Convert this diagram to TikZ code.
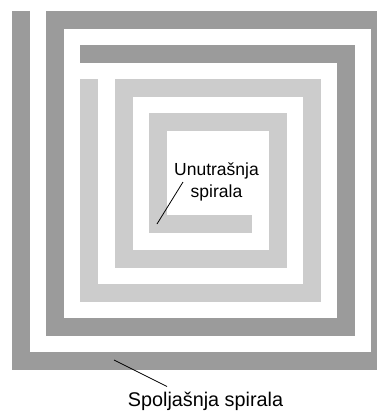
\documentclass[tikz,border=0pt]{standalone}
\usepackage{fontspec}
\setmainfont{Liberation Sans}
\usetikzlibrary{positioning}
\definecolor{Spiral_Dark}{HTML}{9B9B9B}
\definecolor{Spiral_Light}{HTML}{CCCCCC}
\begin{document}
\begin{tikzpicture}[
    x=1pt, y=-1pt,
    winding/.style={line width=18pt, line cap=butt, line join=miter},
    label/.style={inner sep=0pt, align=center, text=black},
    leader/.style={draw=black, line width=0.8pt}
]
\useasboundingbox (0,0) rectangle (377,412);
\begin{scope}
\clip (0,0) rectangle (377,412);
% outer spiral
\draw[winding, draw=Spiral_Dark] (21,11) -- (21,361) -- (380,361) -- (380,20)
    -- (55,20) -- (55,327) -- (345.5,327) -- (345.5,54) -- (80,54);
% inner spiral
\draw[winding, draw=Spiral_Light] (89,79) -- (89,293) -- (312,293) -- (312,88)
    -- (124,88) -- (124,259) -- (277.5,259) -- (277.5,122) -- (158,122)
    -- (158,224) -- (252,224);
\end{scope}
% labels
\node[label, font=\fontsize{17.5}{22}\selectfont] (innerlbl) at (216.5,182) {Unutrašnja\\spirala};
\node[label, font=\fontsize{19.8}{24}\selectfont, anchor=base] (outerlbl) at (205.5,406.5) {Spoljašnja spirala};
\coordinate (innerfrom) at (183,182);
\coordinate (innertip) at (157,224);
\coordinate (outerfrom) at (167,386.5);
\coordinate (outertip) at (114,360);
\draw[leader] (innerfrom) -- (innertip);
\draw[leader] (outerfrom) -- (outertip);
\end{tikzpicture}
\end{document}
